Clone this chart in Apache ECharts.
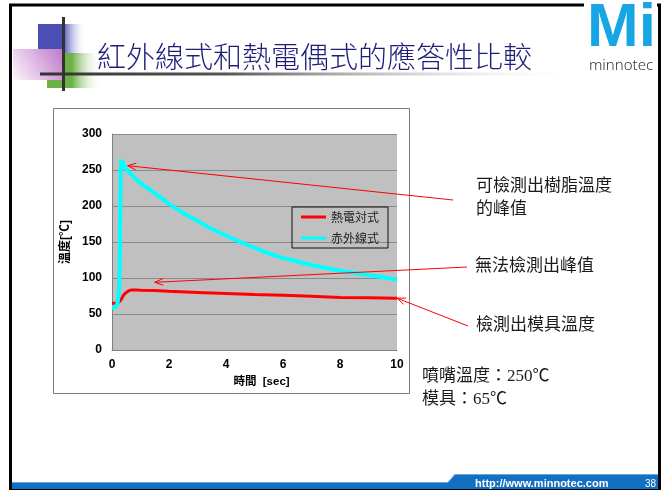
<!DOCTYPE html>
<html>
<head>
<meta charset="utf-8">
<script src="https://cdn.jsdelivr.net/npm/echarts@6/dist/echarts.min.js"></script>
<style>
  html, body { margin: 0; padding: 0; background: #fff; }
  #main { width: 669px; height: 490px; }
</style>
</head>
<body>
<div id="main"></div>
<script>
// Thermocouple reading (sec, °C)
const timeTC = [0, 0.1, 0.2, 0.25, 0.3, 0.35, 0.4, 0.5, 0.6, 0.7, 0.85, 1.0, 1.5, 2, 3, 4, 5, 6, 7, 8, 9, 10];
const tempTC = [65, 65, 65, 66, 69, 72, 76, 80, 82.5, 83.5, 83.5, 83, 82.5, 81.5, 80, 78.5, 77, 76, 74.5, 73, 72.5, 72];

// Infrared reading (sec, °C)
const timeIR = [0, 0.12, 0.2, 0.25, 0.28, 0.3, 0.32, 0.36, 0.45, 0.5, 0.7, 0.9, 1.2, 1.5, 2, 2.5, 3, 3.5, 4, 4.5, 5, 5.5, 6, 6.5, 7, 7.5, 8, 8.5, 9, 9.5, 10];
const tempIR = [59, 59, 66, 85, 150, 240, 264, 262, 254, 251, 243, 235, 226, 218, 203, 190, 179, 168, 159, 150, 142, 134, 128, 123, 118, 114, 110, 107, 104, 101, 98];

const seriesNames = ['熱電対式', '赤外線式'];
const slideTitle = '紅外線式和熱電偶式的應答性比較';
const xAxisName = '時間  [sec]';
const yAxisName = '溫度[℃]';
const xRange = [0, 10, 2];     // min, max, step
const yRange = [0, 300, 50];   // min, max, step

// Where each callout arrow points, in (sec, °C)
const calloutTargets = [[0.55, 256], [1.5, 94], [10, 72]];
const calloutLines = [['可檢測出樹脂溫度', '的峰值'], ['無法檢測出峰值'], ['檢測出模具溫度']];
const conditionLines = ['噴嘴溫度：250℃', '模具：65℃'];
const footerUrl = 'http://www.minnotec.com';
const pageNo = '38';

const zip = (xs, ys) => xs.map((x, i) => [x, ys[i]]);
const CJK = '"Noto Sans CJK TC", "Noto Sans CJK JP", sans-serif';
const SANS = '"Liberation Sans", Arial, ' + CJK;

const chart = echarts.init(document.getElementById('main'), null, { renderer: 'canvas' });

chart.setOption({
  animation: false,
  backgroundColor: '#fff',
  grid: {
    left: 112, top: 134, width: 285, height: 216,
    show: true, backgroundColor: '#c0c0c0', borderWidth: 0
  },
  legend: {
    orient: 'vertical',
    left: 292, top: 207,
    padding: [4, 9, 4, 9],
    itemWidth: 25, itemHeight: 14, itemGap: 9,
    icon: 'path://M0,0H25V3H0Z',
    borderColor: '#111', borderWidth: 1,
    backgroundColor: 'transparent',
    textStyle: { fontFamily: CJK, fontSize: 12, color: '#222' },
    data: seriesNames
  },
  xAxis: {
    type: 'value',
    min: xRange[0], max: xRange[1], interval: xRange[2],
    axisLine: { show: true, lineStyle: { color: '#808080', width: 1 } },
    axisTick: { show: false },
    splitLine: { show: false },
    axisLabel: { color: '#000', fontFamily: SANS, fontWeight: 'bold', fontSize: 12, margin: 9 },
    name: xAxisName,
    nameLocation: 'middle',
    nameGap: 26,
    nameTextStyle: { color: '#000', fontFamily: SANS, fontWeight: 'bold', fontSize: 11.5, padding: [0, 0, 0, 14] }
  },
  yAxis: {
    type: 'value',
    min: yRange[0], max: yRange[1], interval: yRange[2],
    axisLine: { show: true, lineStyle: { color: '#808080', width: 1 } },
    axisTick: { show: false },
    splitLine: { show: true, lineStyle: { color: '#8a8a8a', width: 1 } },
    axisLabel: { color: '#000', fontFamily: SANS, fontWeight: 'bold', fontSize: 12, margin: 10 },
    name: yAxisName,
    nameLocation: 'middle',
    nameGap: 40,
    nameTextStyle: { color: '#000', fontFamily: SANS, fontWeight: 'bold', fontSize: 12 }
  },
  series: [
    {
      name: seriesNames[0], type: 'line', showSymbol: false, symbol: 'none',
      lineStyle: { color: '#ff0000', width: 3 }, itemStyle: { color: '#ff0000' },
      data: zip(timeTC, tempTC), z: 3
    },
    {
      name: seriesNames[1], type: 'line', showSymbol: false, symbol: 'none',
      lineStyle: { color: '#00ffff', width: 4 }, itemStyle: { color: '#00ffff' },
      data: zip(timeIR, tempIR), z: 4
    }
  ]
});

// ---- slide decoration, labels and callout arrows ----
const g = [];

// chart frame
g.push({ type: 'rect', z: -5, shape: { x: 53.5, y: 108.5, width: 356, height: 285 },
  style: { fill: '#fff', stroke: '#7a7a7a', lineWidth: 1 } });

// slide border
g.push({ type: 'rect', z: 1, shape: { x: 10.5, y: 5, width: 649, height: 484 },
  style: { fill: null, stroke: '#000', lineWidth: 3 } });

// footer bar
g.push({ type: 'polygon', z: 2,
  shape: { points: [[12, 482], [448, 482], [455, 474], [658, 474], [658, 489], [12, 489]] },
  style: { fill: '#1270c2' } });
g.push({ type: 'polyline', z: 2,
  shape: { points: [[12, 482.5], [448, 482.5], [455, 474.5], [658, 474.5]] },
  style: { stroke: '#6aa8e0', lineWidth: 1, fill: null } });
g.push({ type: 'text', z: 3, style: { text: footerUrl, x: 475, y: 484, verticalAlign: 'middle',
  font: 'bold 11px "Liberation Sans", Arial, sans-serif', fill: '#fff' } });
g.push({ type: 'text', z: 3, style: { text: pageNo, x: 645, y: 484, verticalAlign: 'middle',
  font: '10px "Liberation Sans", Arial, sans-serif', fill: '#fff' } });

// logo
g.push({ type: 'rect', z: 2, shape: { x: 584, y: 2, width: 73, height: 6 }, style: { fill: '#fff' } });
g.push({ type: 'text', z: 3, style: { text: 'Mi', x: 587, y: 29, verticalAlign: 'middle',
  font: 'bold 62px "Liberation Sans", Arial, sans-serif', fill: '#17a6e3' } });
g.push({ type: 'text', z: 3, style: { text: 'minnotec', x: 621, y: 66, align: 'center', verticalAlign: 'middle',
  font: '300 15px "Noto Sans", sans-serif', fill: '#333' } });

// title ornament
const hfade = (c, stop) => ({ type: 'linear', x: 0, y: 0, x2: 1, y2: 0,
  colorStops: [{ offset: 0, color: c }, { offset: stop, color: c }, { offset: 1, color: 'rgba(255,255,255,0)' }] });
g.push({ type: 'rect', z: 2, shape: { x: 38, y: 24, width: 48, height: 31 }, style: { fill: hfade('#4b4fb3', 0.52) } });
g.push({ type: 'rect', z: 2, shape: { x: 47, y: 53, width: 54, height: 35 }, style: { fill: hfade('#6cb145', 0.46) } });
g.push({ type: 'rect', z: 2, shape: { x: 13, y: 49, width: 49, height: 31 },
  style: { fill: { type: 'linear', x: 1, y: 0, x2: 0, y2: 1,
    colorStops: [{ offset: 0, color: '#c07ac8' }, { offset: 1, color: '#fdf6fd' }] } } });
g.push({ type: 'rect', z: 3, shape: { x: 40, y: 72.5, width: 530, height: 3 },
  style: { fill: { type: 'linear', x: 0, y: 0, x2: 1, y2: 0,
    colorStops: [{ offset: 0, color: '#333' }, { offset: 0.35, color: '#555' }, { offset: 1, color: 'rgba(230,230,230,0)' }] } } });
g.push({ type: 'rect', z: 3, shape: { x: 62, y: 17, width: 3, height: 74 }, style: { fill: '#333' } });
g.push({ type: 'text', z: 3, style: { text: slideTitle, x: 97, y: 57, verticalAlign: 'middle',
  font: '300 29px ' + CJK, fill: '#1d1d7a' } });

// callout texts
const noteFont = '17px "Liberation Serif", ' + CJK;
const calloutPos = [[476, 187], [475, 267], [476, 326]];
calloutLines.forEach((lines, i) => {
  lines.forEach((t, j) => {
    g.push({ type: 'text', z: 3, style: { text: t, x: calloutPos[i][0], y: calloutPos[i][1] + j * 23,
      verticalAlign: 'middle', font: noteFont, fill: '#1a1a1a' } });
  });
});
conditionLines.forEach((t, j) => {
  g.push({ type: 'text', z: 3, style: { text: t, x: 422, y: 377 + j * 23,
    verticalAlign: 'middle', font: noteFont, fill: '#1a1a1a' } });
});

// callout arrows: from the label toward the data point
const arrowTails = [[453, 200], [467, 267], [468, 326]];
calloutTargets.forEach((tgt, i) => {
  const tip = chart.convertToPixel({ gridIndex: 0 }, tgt);
  const tail = arrowTails[i];
  const ang = Math.atan2(tail[1] - tip[1], tail[0] - tip[0]);
  const L = 9, spread = 0.38;
  const p1 = [tip[0] + L * Math.cos(ang + spread), tip[1] + L * Math.sin(ang + spread)];
  const p2 = [tip[0] + L * Math.cos(ang - spread), tip[1] + L * Math.sin(ang - spread)];
  g.push({ type: 'line', z: 10, shape: { x1: tail[0], y1: tail[1], x2: tip[0], y2: tip[1] },
    style: { stroke: '#ff0000', lineWidth: 1 } });
  g.push({ type: 'polyline', z: 10, shape: { points: [p1, tip, p2] },
    style: { stroke: '#ff0000', lineWidth: 1, fill: null } });
});

chart.setOption({ graphic: { elements: g } });
</script>
</body>
</html>
